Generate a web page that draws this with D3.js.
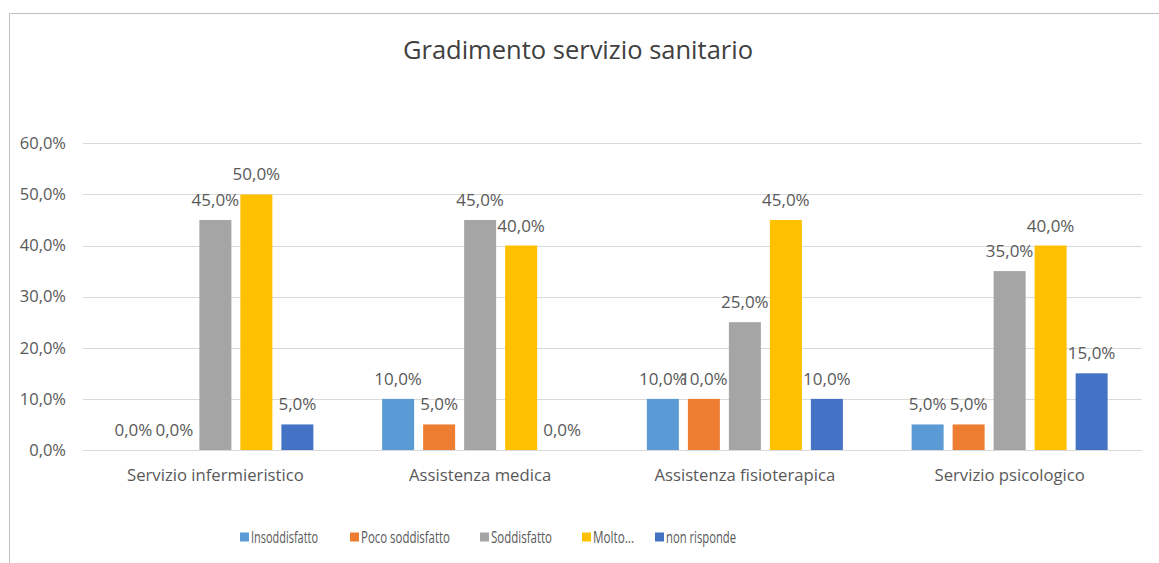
<!DOCTYPE html>
<html><head><meta charset="utf-8">
<script src="https://cdn.jsdelivr.net/npm/d3@7"></script>
<style>body{margin:0;background:#fff;} text{font-family:"Open Sans",sans-serif;}</style>
</head><body>
<svg id="c" width="1159" height="563"></svg>
<script>
const categories = ["Servizio infermieristico","Assistenza medica","Assistenza fisioterapica","Servizio psicologico"];
const seriesNames = ["Insoddisfatto","Poco soddisfatto","Soddisfatto","Molto...","non risponde"];
const insoddisfatto = [0, 10, 10, 5];
const pocoSoddisfatto = [0, 5, 10, 5];
const soddisfatto = [45, 45, 25, 35];
const molto = [50, 40, 45, 40];
const nonRisponde = [5, 0, 10, 15];
const yTicks = [0,10,20,30,40,50,60];
const colors = ["#5B9BD5","#ED7D31","#A5A5A5","#FFC000","#4472C4"];
const values = [insoddisfatto, pocoSoddisfatto, soddisfatto, molto, nonRisponde];

(function(){
const svg = d3.select("#c");
const W = 1159, H = 563;
const pLeft = 83, pRight = 1142, pTop = 143.3, pBottom = 450;
const fmt = v => v.toFixed(1).replace(".", ",") + "%";

// border
svg.append("path").attr("d", `M9.5,${H+2}V13.5H${W+2}`).attr("fill","none").attr("stroke","#BFBFBF").attr("stroke-width",1);

// title
svg.append("text").attr("x", 578).attr("y", 59).attr("text-anchor","middle")
  .attr("font-size", 25.5).attr("fill","#404040").text("Gradimento servizio sanitario");

const y = d3.scaleLinear().domain([0,60]).range([pBottom, pTop]);
const x0 = d3.scaleBand().domain(categories).range([pLeft, pRight]);
const bw = x0.bandwidth();
const step = 41;
const off = (bw - 5*step)/2;
const x1 = d3.scaleBand().domain(seriesNames).range([off, off + 5*step]).paddingInner(9/41).paddingOuter(9/82);

// grid
svg.append("g").selectAll("line").data(yTicks).join("line")
  .attr("x1", pLeft).attr("x2", pRight)
  .attr("y1", d => Math.round(y(d))+0.5).attr("y2", d => Math.round(y(d))+0.5)
  .attr("stroke","#D9D9D9").attr("stroke-width",1);

// y axis labels
const yAxis = d3.axisLeft(y).tickValues(yTicks).tickFormat(fmt).tickSize(0).tickPadding(0);
const ga = svg.append("g").attr("transform", `translate(66,0)`).call(yAxis);
ga.select(".domain").remove();
ga.selectAll("text").attr("font-family","'Open Sans',sans-serif").attr("font-size",16.5).attr("fill","#595959");

// x axis labels
const xAxis = d3.axisBottom(x0).tickSize(0).tickPadding(0);
const gx = svg.append("g").attr("transform", `translate(0,469)`).call(xAxis);
gx.select(".domain").remove();
gx.selectAll("text").attr("font-family","'Open Sans',sans-serif").attr("font-size",16.7).attr("fill","#595959");

// bars
seriesNames.forEach((s, si) => {
  const g = svg.append("g");
  g.selectAll("rect").data(categories).join("rect")
    .attr("x", c => x0(c) + x1(s))
    .attr("width", x1.bandwidth())
    .attr("y", (c, i) => y(values[si][i]))
    .attr("height", (c, i) => pBottom - y(values[si][i]))
    .attr("fill", colors[si]);
  g.selectAll("text").data(categories).join("text")
    .attr("x", c => x0(c) + x1(s) + x1.bandwidth()/2)
    .attr("y", (c, i) => y(values[si][i]) - 14)
    .attr("text-anchor","middle").attr("font-size",17).attr("fill","#595959")
    .text((c, i) => fmt(values[si][i]));
});

// legend
const legX = [240, 350, 480, 582, 655];
const legW = [67, 89, 61, 41, 70];
const lg = svg.append("g");
seriesNames.forEach((s, i) => {
  lg.append("rect").attr("x", legX[i]).attr("y", 532.5).attr("width", 9).attr("height", 9).attr("fill", colors[i]);
  lg.append("text").attr("x", legX[i] + 11).attr("y", 543).attr("font-size", 15.5).attr("fill","#595959")
    .attr("textLength", legW[i]).attr("lengthAdjust","spacingAndGlyphs").text(s);
});
})();
</script>
</body></html>
